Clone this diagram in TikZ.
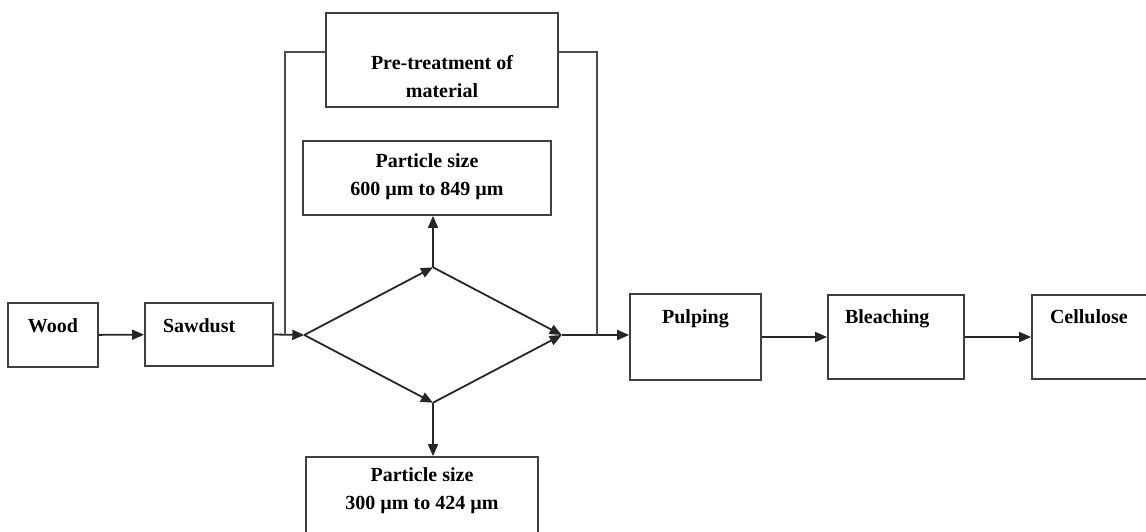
\documentclass[tikz,border=0pt]{standalone}
\usepackage{fontspec}
\setmainfont{Liberation Serif}
\usetikzlibrary{arrows.meta,shapes.geometric}

\tikzset{
  stage/.style={draw=black!75, line width=1.8pt, inner sep=0pt, align=center,
    font=\fontsize{20}{27.5}\selectfont\bfseries},
  flow/.style={-{Triangle[length=12pt,width=10pt]}, line width=1.8pt, draw=black!85},
  bypass/.style={line width=1.2pt, draw=black!70}
}

\begin{document}
\begin{tikzpicture}[x=1pt, y=-1pt]
                \useasboundingbox (0,0) rectangle (1146,531);
                \node [stage, minimum width=90pt, text height=29pt, text depth=35pt] (wood) at (53,335) {Wood};
                \node [stage, inner xsep=18pt, text width=92pt, align=left, text height=29pt, text depth=34pt] (sawdust) at (209,334.5) {Sawdust};
                \node [stage, minimum width=232pt, text height=84pt, text depth=10pt] (pre) at (442,60) {Pre-treatment of\\material};
                \node [stage, minimum width=248pt, text height=54pt, text depth=20pt] (coarse) at (427,178) {Particle size\\600 µm to 849 µm};
                \node [stage, minimum width=232pt, text height=52pt, text depth=31pt] (fine) at (422,498.5) {Particle size\\300 µm to 424 µm};
                \node [diamond, minimum width=257pt, minimum height=135pt, inner sep=0pt] (split) at (433,335) {};
                \node [stage, minimum width=131pt, text height=29pt, text depth=57pt] (pulping) at (695.5,337) {Pulping};
                \node [stage, inner xsep=17pt, text width=102pt, align=left, text height=28pt, text depth=56pt] (bleaching) at (896,337) {Bleaching};
                \node [stage, inner xsep=18pt, text width=84pt, align=left, text height=28pt, text depth=56pt] (cellulose) at (1092,337) {Cellulose};
                \coordinate (jl) at (285,335);
                \coordinate (jr) at (597,335);
                \draw [flow] (wood) -- (sawdust);
                \draw [flow] (sawdust.east) -- (split.west);
                \draw [flow] (split.west) -- (split.north);
                \draw [flow] (split.north) -- (split.east);
                \draw [flow] (split.west) -- (split.south);
                \draw [flow] (split.south) -- (split.east);
                \draw [flow] (split.north) -- (split.north |- coarse.south);
                \draw [flow] (split.south) -- (split.south |- fine.north);
                \draw [flow] (split.east) -- (split.east -| pulping.west);
                \draw [flow] (pulping) -- (bleaching);
                \draw [flow] (bleaching) -- (cellulose);
                \draw [bypass] (jl) |- ([yshift=8pt]pre.west);
                \draw [bypass] ([yshift=8pt]pre.east) -| (jr);
            \end{tikzpicture}
\end{document}
